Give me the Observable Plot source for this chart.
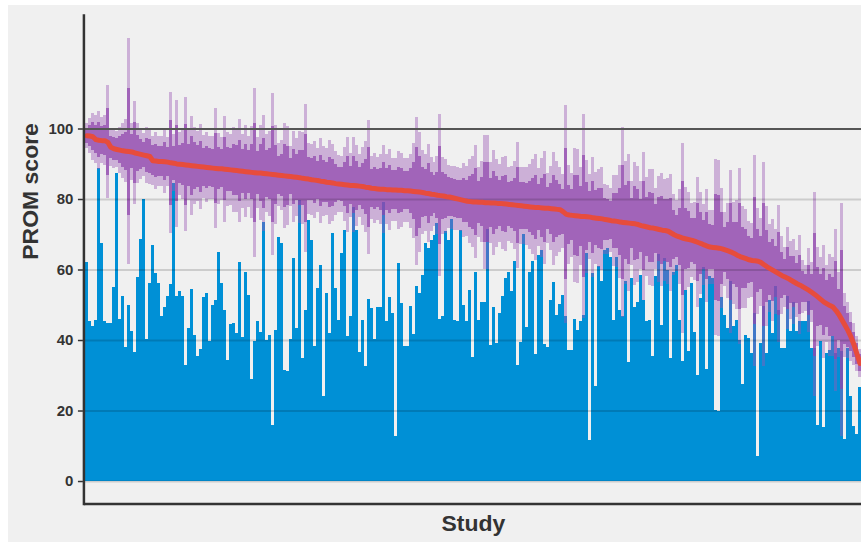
<!DOCTYPE html>
<html>
<head>
<meta charset="utf-8">
<script src="https://cdn.jsdelivr.net/npm/d3@7"></script>
<script src="https://cdn.jsdelivr.net/npm/@observablehq/plot@0.6"></script>
<style>
html,body{margin:0;padding:0;background:#ffffff;}
#panel{position:absolute;left:8px;top:5px;width:853px;height:537px;background:#F0F0F0;overflow:hidden;}
</style>
</head>
<body>
<div id="panel"></div>
<script>
// Mean PROM score per study (red line), sorted descending
const meanScore = [
98.1,98.0,97.8,97.0,96.8,96.7,96.7,96.2,94.8,94.4,94.2,94.0,93.8,93.7,93.6,93.5,93.2,93.0,92.8,92.6,92.4,92.2,91.0,90.9,90.8,90.8,90.7,90.6,90.4,90.3,90.1,90.0,89.9,89.8,89.7,89.6,89.5,89.4,89.3,89.2,89.1,89.0,88.9,
88.8,88.7,88.7,88.6,88.5,88.4,88.3,88.2,88.1,88.0,87.9,87.8,87.7,87.6,87.5,87.5,87.4,87.3,87.2,87.1,87.0,86.9,86.8,86.7,86.6,86.5,86.4,86.3,86.2,86.0,85.9,85.8,85.6,85.5,85.4,85.2,85.1,84.9,84.8,84.7,84.5,84.4,84.3,
84.2,84.1,84.0,84.0,83.9,83.8,83.7,83.5,83.4,83.2,83.1,83.0,82.9,82.9,82.8,82.8,82.7,82.7,82.6,82.6,82.5,82.5,82.4,82.3,82.2,82.1,82.0,81.8,81.7,81.5,81.4,81.2,81.1,81.0,80.8,80.7,80.5,80.3,80.1,79.9,79.7,79.5,79.4,
79.3,79.3,79.2,79.2,79.1,79.1,79.0,79.0,78.9,78.9,78.8,78.7,78.6,78.5,78.4,78.3,78.2,78.1,78.0,77.9,77.8,77.7,77.7,77.6,77.5,77.5,77.4,77.3,77.2,77.1,76.5,75.8,75.6,75.5,75.4,75.3,75.2,75.2,75.1,75.0,74.8,74.7,74.6,
74.5,74.3,74.2,74.0,73.9,73.8,73.6,73.5,73.4,73.3,73.2,73.1,72.9,72.6,72.4,72.2,72.0,71.9,71.7,71.5,71.3,71.2,71.0,70.5,70.0,69.6,69.3,69.0,68.8,68.6,68.4,68.1,67.8,67.5,67.1,66.8,66.5,66.4,66.3,66.2,66.0,65.7,65.4,
65.1,64.7,64.2,63.8,63.5,63.2,62.9,62.7,62.6,62.5,62.1,61.5,60.9,60.4,59.9,59.4,58.9,58.4,58.0,57.6,57.1,56.6,56.1,55.7,55.2,54.7,54.2,53.6,53.0,52.3,51.6,50.9,50.4,49.9,49.5,48.5,47.3,45.8,44.3,42.8,41.0,38.8,36.2,33.5
];
// Blue bar value per study
const barValue = [
62.0,45.3,43.9,45.8,88.7,67.5,45.3,44.9,44.9,54.9,87.5,46.0,52.5,37.9,50.0,42.6,36.6,57.9,68.6,80.0,40.4,56.1,67.0,58.9,56.1,46.7,49.4,52.5,55.8,84.4,52.5,53.8,52.5,32.9,43.4,54.4,41.5,35.4,37.5,52.2,53.3,39.6,50.0,
51.4,65.1,56.1,48.6,34.4,44.6,44.8,42.0,62.0,40.8,59.4,52.8,28.8,39.6,45.3,42.2,73.6,39.9,41.5,16.0,42.9,69.3,67.5,31.6,31.1,40.3,63.2,43.4,79.7,34.9,48.6,74.1,68.4,38.2,54.7,61.3,24.1,53.3,42.0,70.3,54.7,45.8,64.6,
71.2,41.2,46.9,77.6,71.2,36.5,45.8,32.5,51.6,49.1,40.3,49.5,49.5,79.2,45.3,52.1,47.8,12.7,61.8,50.5,38.2,38.2,49.7,41.7,55.2,53.3,58.5,67.5,66.2,68.4,69.8,73.1,45.9,46.7,70.8,68.4,74.2,45.8,45.5,71.2,50.0,45.3,54.1,
35.2,59.2,45.8,50.9,50.9,71.4,38.7,49.3,39.2,47.8,52.5,57.5,59.2,53.8,62.5,33.0,39.3,70.0,43.7,59.2,62.5,36.1,64.2,65.6,39.0,38.0,51.4,56.4,47.2,50.3,52.8,46.7,37.1,37.3,46.0,42.9,45.3,47.2,64.6,11.6,59.0,26.9,61.0,
56.6,65.6,66.0,63.5,45.8,63.5,48.6,46.9,56.6,33.7,57.5,49.5,50.9,58.5,51.4,45.5,45.8,35.4,58.2,64.4,44.3,63.2,59.9,34.9,59.4,61.3,45.8,34.0,54.1,36.8,56.3,42.2,30.0,51.9,60.7,31.8,58.2,57.5,20.1,19.8,52.1,47.2,43.4,
56.6,43.9,45.8,40.1,27.4,41.5,40.6,36.3,47.6,7.1,39.2,49.7,36.3,51.4,42.0,55.2,48.6,37.7,37.7,52.5,42.5,50.9,42.5,45.3,45.3,45.3,51.2,37.7,37.7,16.0,39.6,15.4,36.3,37.3,41.0,36.3,37.7,36.8,12.0,37.7,24.1,15.6,13.2,26.8
];
// Half-width of the wide (light purple) interval
const ciOuter = [
3.5,5,6.7,6.7,8.3,6.6,7,16,5.4,5.5,5,6.5,7.8,9,32,8,14.5,8.5,7,6,8,8,7,8,7,7,9,7,20,8,18,9,10,19,10,14,11,10,12,9,10,9,9,
17,10,9,15,10.5,10,12,12,14.5,10.5,13,10,13,24,10,13.5,16.5,11,12,23,14,9,10,15,14,8.5,13,11,13,13,21,10,10,11,9,12,10,9.5,12,11,9,8,8,
10.5,13.5,9,13.5,11.5,9,11,13,19,9,10,9,10,12.5,10,11.5,9,9,11,10.5,9,9,10.5,13.5,21,17,12,11,14,10.5,9,11,23,11,10.5,9,9,9,9,9,10.5,10,12,
13,16,10,11.5,19,19,11.5,15,12.5,11,13,13.5,10.5,11,12.5,18,11,11,11,12,13.5,15,11,14,16,10,12,16,13.5,12,10.5,31,14,12,19,19,14,29,16,12,17,13,14,
14.5,10,9.7,9,13,13,16,27,17.5,19.5,12,17.5,16.5,12.5,21,14,16.5,16.5,11.5,15,16,14.5,15,16.5,11.5,10,13.5,27,14.5,13.5,10.5,11,18.5,14.5,11.5,16,10.5,10.5,25,25,17,10.5,13.5,
23,14.5,15.5,25,14.5,14,11,10.5,30,15,12.5,29,17,12.5,14.5,12,19.5,11,8.5,14.5,11,12,9.5,14,7.5,6.5,12,8.5,29,14,12,16,11,14.5,14,23,12,33,9,8,7,6,5,4
];
// Half-width of the narrow (dark purple) interval
const ciInner = [
2.1,3,4,4,5,4,4.2,9.5,3.2,3.3,3,3.9,4.7,5.4,18,4.8,8.7,5.1,4.2,3.6,4.8,4.8,4.2,4.8,4.2,4.2,5.4,4.2,12,4.8,10.8,5.4,6,11.4,6,8.4,6.6,6,7.2,5.4,6,5.4,5.4,
10,6,5.4,9,6.3,6,7.2,7.2,8.7,6.3,7.8,6,7.8,14,6,8,10,6.6,7.2,13.5,8.4,5.4,6,9,8.4,5.1,7.8,6.6,7.8,7.8,12.5,6,6,6.6,5.4,7.2,6,5.7,7.2,6.6,5.4,4.8,4.8,
6.3,8.1,5.4,8.1,6.9,5.4,6.6,7.8,11.4,5.4,6,5.4,6,7.5,6,6.9,5.4,5.4,6.6,6.3,5.4,5.4,6.3,8.1,12.6,10.2,7.2,6.6,8.4,6.3,5.4,6.6,13.8,6.6,6.3,5.4,5.4,5.4,5.4,5.4,6.3,6,7.2,
7.8,9.6,6,6.9,11.4,11.4,6.9,9,7.5,6.6,7.8,8.1,6.3,6.6,7.5,10.8,6.6,6.6,6.6,7.2,8.1,9,6.6,8.4,9.6,6,7.2,9.6,8.1,7.2,6.3,18.6,8.4,7.2,11.4,11.4,8.4,17.4,9.6,7.2,10.2,7.8,8.4,
8.7,6,5.8,5.4,7.8,7.8,9.6,16.2,10.5,11.7,7.2,10.5,9.9,7.5,12.6,8.4,9.9,9.9,6.9,9,9.6,8.7,9,9.9,6.9,6,8.1,16.2,8.7,8.1,6.3,6.6,11.1,8.7,6.9,9.6,6.3,6.3,15,15,10.2,6.3,8.1,
13.8,8.7,9.3,15,8.7,8.4,6.6,6.3,18,9,7.5,17.4,10.2,7.5,8.7,7.2,11.7,6.6,5.1,8.7,6.6,7.2,5.7,8.4,4.5,3.9,7.2,5.1,17.4,8.4,7.2,9.6,6.6,8.7,8.4,13.8,7.2,19.8,5.4,4.8,4.2,3.6,3,2.4
];
const yTicks = [0, 20, 40, 60, 80, 100];
const gridLight = [0, 20, 40, 60, 80];
const gridDark = [100];
const yLabel = "PROM score";
const xLabel = "Study";

const data = meanScore.map((m, i) => ({
  study: i + 1, mean: m, bar: barValue[i], outer: ciOuter[i], inner: ciInner[i]
}));

const yDomain = [-6.35, 132.2];
const txt = "#333333";

const chart = Plot.plot({
  width: 854,
  height: 537,
  marginLeft: 77,
  marginRight: 0,
  marginTop: 10,
  marginBottom: 38,
  style: {background: "transparent", fontFamily: "'Liberation Sans', Arial, sans-serif", overflow: "visible"},
  x: {type: "band", domain: data.map(d => d.study), padding: 0, axis: null},
  y: {domain: yDomain, axis: null},
  marks: [
    Plot.barY(data, {x: "study", y: "bar", fill: "#0090D6", inset: 0, shapeRendering: "crispEdges"}),
    Plot.barY(data, {x: "study", y1: d => d.mean - d.outer, y2: d => d.mean + d.outer, fill: "#9B59B6", fillOpacity: 0.42, inset: 0, shapeRendering: "crispEdges"}),
    Plot.barY(data, {x: "study", y1: d => d.mean - d.inner, y2: d => d.mean + d.inner, fill: "#8E44AD", fillOpacity: 0.7, inset: 0, shapeRendering: "crispEdges"}),
    Plot.ruleY(gridLight, {stroke: "#000", strokeOpacity: 0.15, strokeWidth: 1.8}),
    Plot.ruleY(gridDark, {stroke: "#555", strokeWidth: 2}),
    Plot.lineY(data, {x: "study", y: "mean", stroke: "#E74C3C", strokeWidth: 5, strokeLinejoin: "round"}),
    Plot.axisY({ticks: yTicks, tickSize: 5, tickPadding: 5, dx: -2, fontSize: 15, fontWeight: "bold", color: txt, stroke: txt, strokeWidth: 1.5, label: null}),
    Plot.frame({anchor: "left", stroke: txt, strokeWidth: 2.5, dx: -1.5}),
    Plot.frame({anchor: "bottom", stroke: txt, strokeWidth: 2.5}),
    Plot.text([yLabel], {frameAnchor: "left", rotate: -90, dx: -55, fontSize: 23, fontWeight: "bold", fill: txt}),
    Plot.text([xLabel], {frameAnchor: "bottom", lineAnchor: "middle", dy: 20, fontSize: 23, fontWeight: "bold", fill: txt})
  ]
});
document.getElementById("panel").appendChild(chart);
</script>
</body>
</html>
